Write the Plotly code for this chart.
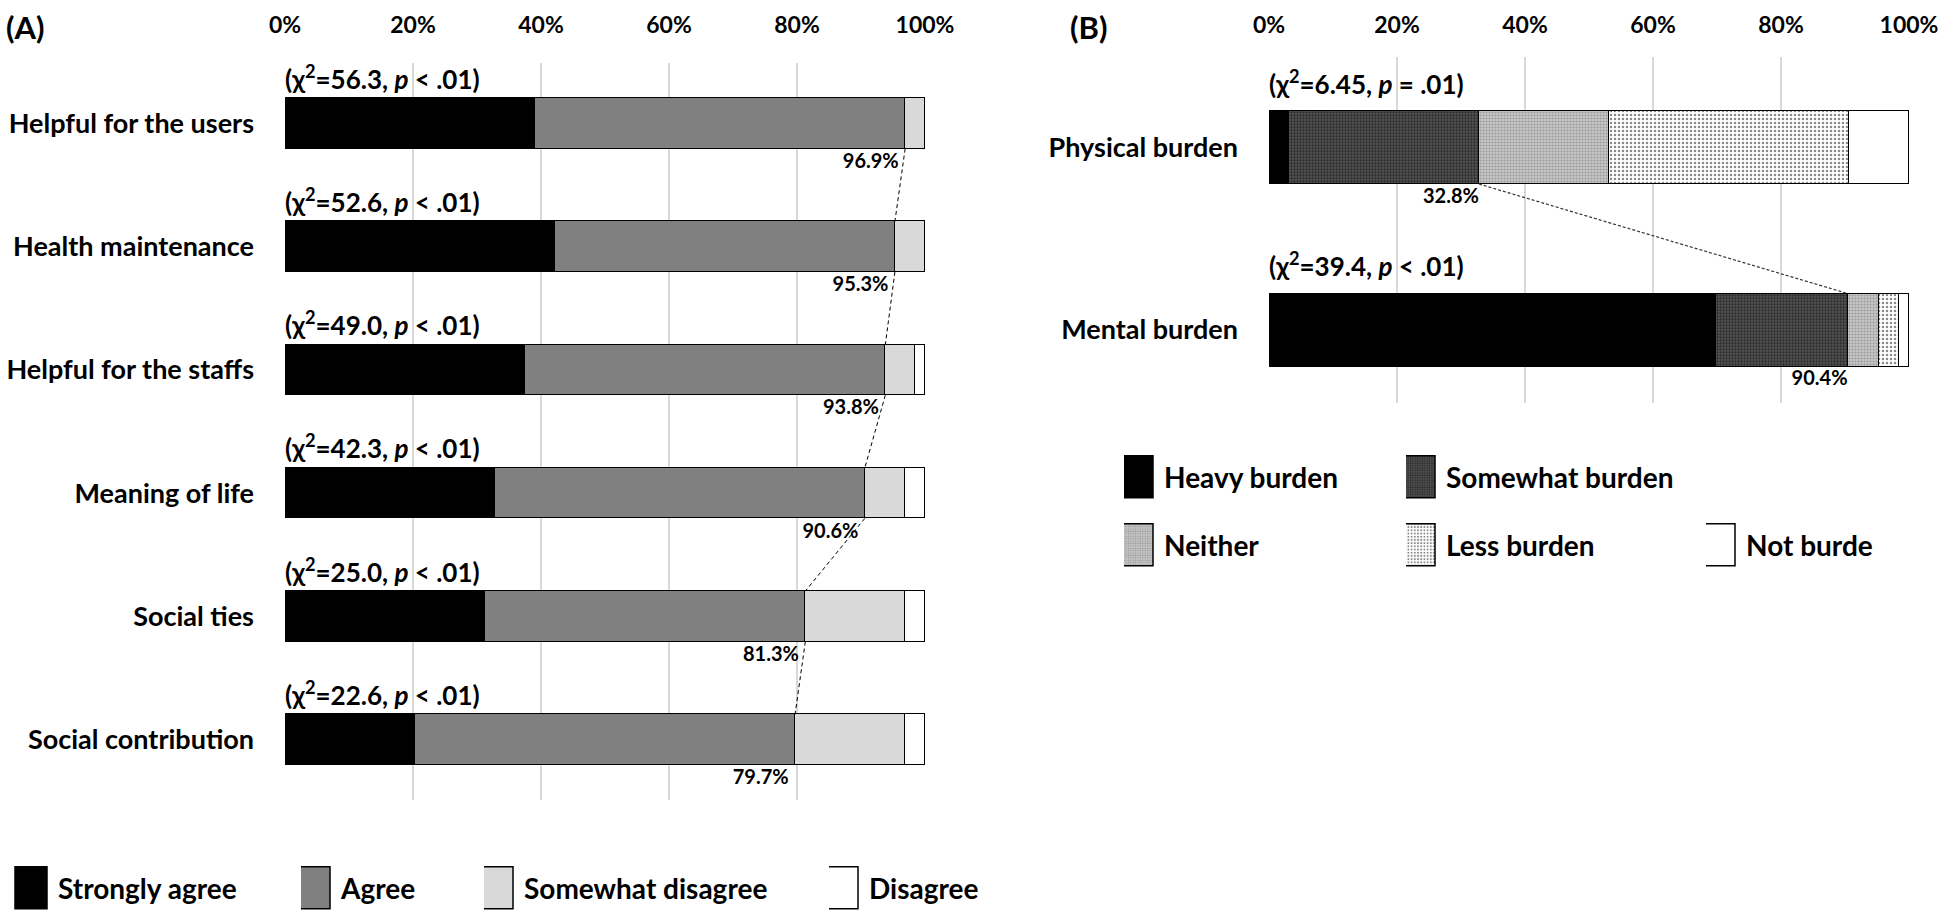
import plotly.graph_objects as go

W, H = 1943, 910
FONT = "Lato"

# ---------------- data: panel A ----------------
items_a = ["Helpful for the users", "Health maintenance", "Helpful for the staffs",
           "Meaning of life", "Social ties", "Social contribution"]
strongly_agree = [39.1, 42.2, 37.5, 32.8, 31.3, 20.3]
agree = [57.8, 53.1, 56.3, 57.8, 50.0, 59.4]
somewhat_disagree = [3.1, 4.7, 4.7, 6.3, 15.6, 17.2]
disagree = [0.0, 0.0, 1.5, 3.1, 3.1, 3.1]
chi_a = ["56.3", "52.6", "49.0", "42.3", "25.0", "22.6"]
p_a = ["< .01", "< .01", "< .01", "< .01", "< .01", "< .01"]

# ---------------- data: panel B ----------------
items_b = ["Physical burden", "Mental burden"]
heavy = [3.1, 69.9]
somewhat = [29.7, 20.5]
neither = [20.3, 4.9]
less = [37.5, 3.1]
not_burden = [9.4, 1.6]
chi_b = ["6.45", "39.4"]
p_b = ["= .01", "< .01"]

tick_vals = [0, 20, 40, 60, 80, 100]
tick_text = ["0%", "20%", "40%", "60%", "80%", "100%"]

# ---------------- styling ----------------
BW_A = 0.41
BW_B = 0.40
OUT = dict(color="black", width=1.5)

fig = go.Figure()

# each legend entry gets its own legend box so it can sit where the reference puts it
series_a = [
    ("Strongly agree", strongly_agree, dict(color="#000000"), "legend", 18, 888),
    ("Agree", agree, dict(color="#808080"), "legend2", 301, 888),
    ("Somewhat disagree", somewhat_disagree, dict(color="#d9d9d9"), "legend3", 484, 888),
    ("Disagree", disagree, dict(color="#ffffff"), "legend4", 829, 888),
]
ya = list(range(len(items_a)))
for name, vals, mk, lg, _, _ in series_a:
    fig.add_trace(go.Bar(orientation="h", x=vals, y=ya, name=name, width=BW_A,
                         marker=dict(line=OUT, **mk), xaxis="x", yaxis="y",
                         legend=lg, hoverinfo="x+name"))

series_b = [
    ("Heavy burden", heavy, dict(color="#000000"), "legend5", 1124, 477),
    ("Somewhat burden", somewhat,
     dict(color="#4d4d4d", pattern=dict(shape=".", fgcolor="#2a2a2a", bgcolor="#555555",
                                        size=3, solidity=0.45, fillmode="replace")), "legend6", 1406, 477),
    ("Neither", neither,
     dict(color="#c0c0c0", pattern=dict(shape=".", fgcolor="#9a9a9a", bgcolor="#c8c8c8",
                                        size=3, solidity=0.4, fillmode="replace")), "legend7", 1124, 545),
    ("Less burden", less,
     dict(color="#f2f2f2", pattern=dict(shape=".", fgcolor="#8a8a8a", bgcolor="#ffffff",
                                        size=4, solidity=0.3, fillmode="replace")), "legend8", 1406, 545),
    ("Not burde", not_burden, dict(color="#ffffff"), "legend9", 1706, 545),
]
yb = list(range(len(items_b)))
for name, vals, mk, lg, _, _ in series_b:
    fig.add_trace(go.Bar(orientation="h", x=vals, y=yb, name=name, width=BW_B,
                         marker=dict(line=OUT, **mk), xaxis="x2", yaxis="y2",
                         legend=lg, hoverinfo="x+name"))

# cumulative (agree / burden) totals
tot_a = [round(a + b, 1) for a, b in zip(strongly_agree, agree)]
tot_b = [round(a + b, 1) for a, b in zip(heavy, somewhat)]

# dashed connector lines
lx, ly = [], []
for i in range(len(items_a) - 1):
    lx += [tot_a[i], tot_a[i + 1], None]
    ly += [i + BW_A / 2, i + 1 - BW_A / 2, None]
fig.add_trace(go.Scatter(x=lx, y=ly, mode="lines", xaxis="x", yaxis="y", showlegend=False,
                         line=dict(color="black", width=1, dash="4px,3px"), hoverinfo="skip"))
fig.add_trace(go.Scatter(x=[tot_b[0], tot_b[1]], y=[BW_B / 2, 1 - BW_B / 2], mode="lines",
                         xaxis="x2", yaxis="y2", showlegend=False,
                         line=dict(color="#333333", width=1.2, dash="3px,2px"), hoverinfo="skip"))

CHI = dict(family=FONT, size=26, color="black", weight="bold")
PCT = dict(family=FONT, size=20, color="black", weight="bold")


def chi_text(c, p):
    return "(χ<sup>2</sup>=%s, <i>p</i> %s)" % (c, p.replace("<", "&lt;"))


# statistic labels above bars, percentage labels below bars (text traces on the data axes)
fig.add_trace(go.Scatter(x=[0] * len(items_a), y=[i - 0.335 for i in ya], mode="text",
                         text=[chi_text(c, p) for c, p in zip(chi_a, p_a)],
                         textposition="middle right", textfont=CHI, xaxis="x", yaxis="y",
                         showlegend=False, hoverinfo="skip", cliponaxis=False))
fig.add_trace(go.Scatter(x=[t - 1.0 for t in tot_a], y=[i + 0.32 for i in ya], mode="text",
                         text=["%.1f%%" % t for t in tot_a],
                         textposition="middle left", textfont=PCT, xaxis="x", yaxis="y",
                         showlegend=False, hoverinfo="skip", cliponaxis=False))
fig.add_trace(go.Scatter(x=[0] * len(items_b), y=[i - 0.330 for i in yb], mode="text",
                         text=[chi_text(c, p) for c, p in zip(chi_b, p_b)],
                         textposition="middle right", textfont=CHI, xaxis="x2", yaxis="y2",
                         showlegend=False, hoverinfo="skip", cliponaxis=False))
fig.add_trace(go.Scatter(x=tot_b, y=[i + 0.274 for i in yb], mode="text",
                         text=["%.1f%%" % t for t in tot_b],
                         textposition="middle left", textfont=PCT, xaxis="x2", yaxis="y2",
                         showlegend=False, hoverinfo="skip", cliponaxis=False))

ann = [
    dict(x=4 / W, y=1 - 27 / H, xref="paper", yref="paper", text="(A)", showarrow=False,
         xanchor="left", yanchor="middle", font=dict(family=FONT, size=31, color="black", weight="bold")),
    dict(x=1068 / W, y=1 - 27 / H, xref="paper", yref="paper", text="(B)", showarrow=False,
         xanchor="left", yanchor="middle", font=dict(family=FONT, size=31, color="black", weight="bold")),
]

TICKF = dict(family=FONT, size=23, color="black", weight="bold")
CATF = dict(family=FONT, size=27, color="black", weight="bold")
LEGF = dict(family=FONT, size=28, color="black", weight="bold")


def xax(domain, anchor, standoff):
    return dict(domain=domain, anchor=anchor, range=[0, 100], tickvals=tick_vals,
                ticktext=tick_text, side="top", showgrid=True, gridcolor="#d9d9d9",
                gridwidth=1.5, zeroline=False, showline=False, ticks="", tickfont=TICKF,
                ticklabelstandoff=standoff, fixedrange=True)


layout = dict(
    width=W, height=H, margin=dict(l=0, r=0, t=0, b=0, autoexpand=False),
    paper_bgcolor="white", plot_bgcolor="white",
    barmode="stack", bargap=0,
    font=dict(family=FONT, color="black"),
    xaxis=xax([285 / W, 925 / W], "y", 24),
    yaxis=dict(domain=[1 - 800 / H, 1 - 63 / H], anchor="x", range=[5.49, -0.49],
               tickvals=ya, ticktext=items_a, showgrid=False, zeroline=False, showline=False,
               ticks="", tickfont=CATF, ticklabelstandoff=30, fixedrange=True),
    xaxis2=xax([1269 / W, 1909 / W], "y2", 18),
    yaxis2=dict(domain=[1 - 403 / H, 1 - 57 / H], anchor="x2", range=[1.40, -0.496],
                tickvals=yb, ticktext=items_b, showgrid=False, zeroline=False, showline=False,
                ticks="", tickfont=CATF, ticklabelstandoff=30, fixedrange=True),
    annotations=ann,
    showlegend=True,
)
for name, _, _, lg, lx_px, ly_px in series_a + series_b:
    layout[lg] = dict(orientation="h", x=lx_px / W, y=1 - ly_px / H, xanchor="left",
                      yanchor="middle", font=LEGF, bgcolor="rgba(0,0,0,0)")

fig.update_layout(**layout)

# page tweaks: no body margin, and taller legend swatches like the reference
POST = """
document.body.style.margin='0px';
var gd = document.getElementById('{plot_id}');
function bigSwatches(){
  gd.querySelectorAll('g.legend g.scrollbox').forEach(function(g){
    g.removeAttribute('clip-path');
  });
  gd.querySelectorAll('g.legendpoints path').forEach(function(p){
    p.setAttribute('d','M9,21H-23V-21H9Z');
    p.style.strokeWidth = '1.5px';
    p.style.stroke = 'rgb(0,0,0)';
  });
}
bigSwatches();
gd.on('plotly_afterplot', bigSwatches);
"""
fig.write_html("out.html", post_script=POST, config={"displayModeBar": False})
